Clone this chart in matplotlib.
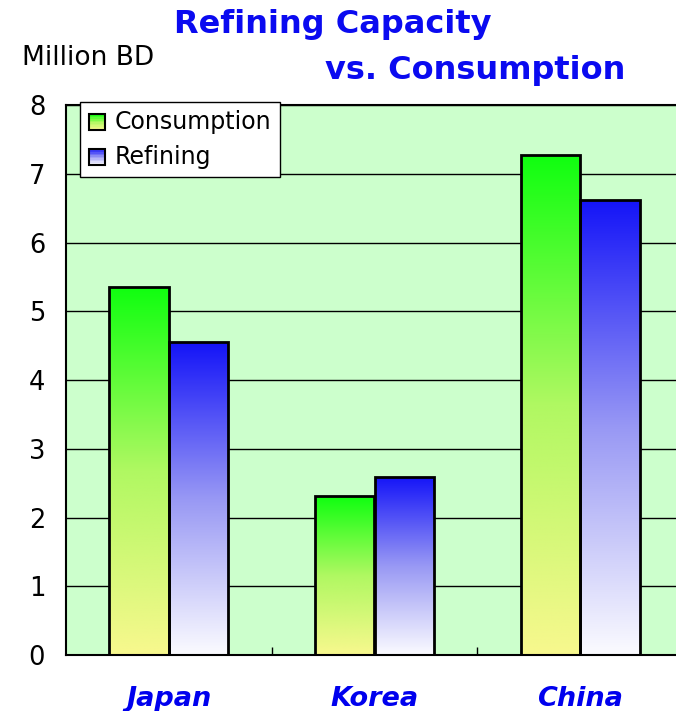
import numpy as np
import matplotlib
matplotlib.use("Agg")
import matplotlib.pyplot as plt
from matplotlib.colors import LinearSegmentedColormap
from matplotlib.patches import Rectangle
from matplotlib.legend_handler import HandlerBase

countries = ["Japan", "Korea", "China"]
consumption = [5.35, 2.31, 7.27]
refining = [4.55, 2.59, 6.62]
series_names = ["Consumption", "Refining"]
yticks = [0, 1, 2, 3, 4, 5, 6, 7, 8]

green_cmap = LinearSegmentedColormap.from_list("g", ["#f8f88e", "#b0f862", "#10ff10"])
blue_cmap = LinearSegmentedColormap.from_list("b", ["#fbfbff", "#9898f4", "#1414f8"])

fig = plt.figure(figsize=(6.76, 7.11), dpi=100)
ax = fig.add_axes([66 / 676, 56 / 711, 617 / 676, 550 / 711])
ax.set_facecolor("#ccffcc")
for y in yticks[1:]:
    ax.axhline(y, color="black", lw=1.0, zorder=1)

x = np.arange(len(countries))
w = 0.29
grad = np.linspace(0, 1, 256).reshape(-1, 1)


def gradient_bars(xs, vals, cmap):
    bars = ax.bar(xs, vals, width=w, facecolor="none", edgecolor="black", lw=2.0, zorder=3)
    for b in bars:
        x0, y0 = b.get_x(), b.get_y()
        im = ax.imshow(grad, cmap=cmap, origin="lower", aspect="auto",
                       extent=(x0, x0 + b.get_width(), y0, y0 + b.get_height()), zorder=2)
        im.set_clip_path(b)
    return bars


b1 = gradient_bars(x - w / 2, consumption, green_cmap)
b2 = gradient_bars(x + w / 2, refining, blue_cmap)
ax.set_xlim(-0.5, 2.5)
ax.set_ylim(0, 8)


class GradHandler(HandlerBase):
    def __init__(self, cmap):
        super().__init__()
        self.cmap = cmap

    def create_artists(self, legend, orig, xd, yd, width, height, fontsize, trans):
        s = height * 0.95
        x0 = xd + (width - s) / 2
        y0 = yd + (height - s) / 2 - 1
        arts = []
        n = 10
        for i in range(n):
            arts.append(Rectangle((x0, y0 + s * i / n), s, s / n + 0.3,
                                  facecolor=self.cmap((i + 0.5) / n), lw=0, transform=trans))
        arts.append(Rectangle((x0, y0), s, s, facecolor="none", edgecolor="black", lw=1.5, transform=trans))
        return arts


leg = ax.legend([b1, b2], series_names, loc="upper left", bbox_to_anchor=(0.022, 1.006),
                handler_map={b1: GradHandler(green_cmap), b2: GradHandler(blue_cmap)},
                fontsize=17, frameon=True, fancybox=False, edgecolor="black",
                framealpha=1, borderpad=0.35, handlelength=0.8, handletextpad=0.35,
                labelspacing=0.45, borderaxespad=0)
leg.get_frame().set_linewidth(1.0)
leg.set_zorder(5)

ax.set_yticks(yticks)
ax.set_yticklabels([str(t) for t in yticks], fontsize=18.5)
ax.tick_params(axis="y", length=0, pad=15)
ax.set_xticks([0.5, 1.5], minor=True)
ax.set_xticks(x)
ax.set_xticklabels(countries, fontsize=19.5, color="#0000ee", fontweight="bold",
                   fontstyle="italic")
ax.tick_params(axis="x", which="major", length=0, pad=22)
ax.tick_params(axis="x", which="minor", direction="in", length=6, width=1)
for s in ["left", "bottom", "top"]:
    ax.spines[s].set_linewidth(1.5)
ax.spines["right"].set_visible(False)

fig.text(22 / 676, 1 - 58 / 711, "Million BD", fontsize=19, va="center", ha="left")
fig.text(333 / 676, 1 - 25 / 711, "Refining Capacity", fontsize=23, color="#0a0af0",
         fontweight="bold", va="center", ha="center")
fig.text(475 / 676, 1 - 70 / 711, "vs. Consumption", fontsize=23, color="#0a0af0",
         fontweight="bold", va="center", ha="center")

fig.savefig("out.png", dpi=100)
